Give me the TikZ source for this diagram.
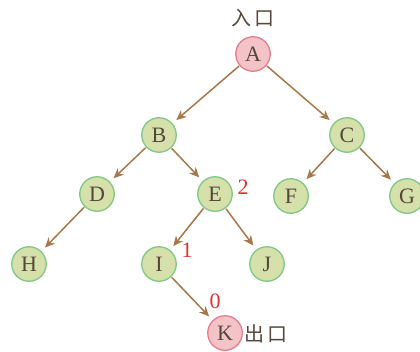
\documentclass[tikz,border=0pt]{standalone}
\usepackage{fontspec}
\setmainfont{Liberation Serif}
\newfontfamily\cjkfont{Noto Sans CJK SC}
\usetikzlibrary{arrows.meta}
\definecolor{leaffill}{HTML}{D5E0AA}
\definecolor{leafline}{HTML}{80C783}
\definecolor{endfill}{HTML}{F4C3C7}
\definecolor{endline}{HTML}{E47C8C}
\definecolor{edgecol}{HTML}{A6784A}
\definecolor{inkcol}{HTML}{54473C}
\definecolor{numcol}{HTML}{E03131}
\tikzset{
  vert/.style={circle, minimum size=34.5pt, inner sep=0pt, line width=1.3pt,
    draw=leafline, fill=leaffill, text=inkcol, font=\fontsize{22}{22}\selectfont},
  endvert/.style={vert, draw=endline, fill=endfill},
  link/.style={draw=edgecol, line width=1.5pt, shorten >=5pt, shorten <=0.5pt,
    -{Stealth[length=10pt,width=9pt]}},
  caption/.style={text=inkcol, font=\cjkfont\fontsize{20}{20}\selectfont},
  num/.style={text=numcol, font=\fontsize{22}{22}\selectfont}
}
\begin{document}
\begin{tikzpicture}[x=1pt, y=-1pt]
  \useasboundingbox (0,0) rectangle (420,351);
  \clip (0,0) rectangle (420,351);
  % tree vertices
  \node[endvert] (A) at (253,54) {A};
  \node[vert] (B) at (159,135) {B};
  \node[vert] (C) at (347,135) {C};
  \node[vert] (D) at (97,194) {D};
  \node[vert] (E) at (215,194) {E};
  \node[vert] (F) at (291,196) {F};
  \node[vert] (G) at (407,196) {G};
  \node[vert] (H) at (29,264) {H};
  \node[vert] (I) at (159,264) {I};
  \node[vert] (J) at (267,264) {J};
  \node[endvert] (K) at (225,333) {K};
  % entry / exit captions
  \node[caption] (in) at (253,18) {入\hspace{3pt}口};
  \node[caption] (out) at (266,334) {出\hspace{3pt}口};
  % distances to the exit
  \node[num] (n2) at (243,187) {2};
  \node[num] (n1) at (187,250) {1};
  \node[num] (n0) at (215,301) {0};
  % edges
  \draw[link] (A) -- (B);
  \draw[link] (A) -- (C);
  \draw[link] (B) -- (D);
  \draw[link] (B) -- (E);
  \draw[link] (C) -- (F);
  \draw[link] (C) -- (G);
  \draw[link] (D) -- (H);
  \draw[link] (E) -- (I);
  \draw[link] (E) -- (J);
  \draw[link] (I) -- (K);
\end{tikzpicture}
\end{document}
